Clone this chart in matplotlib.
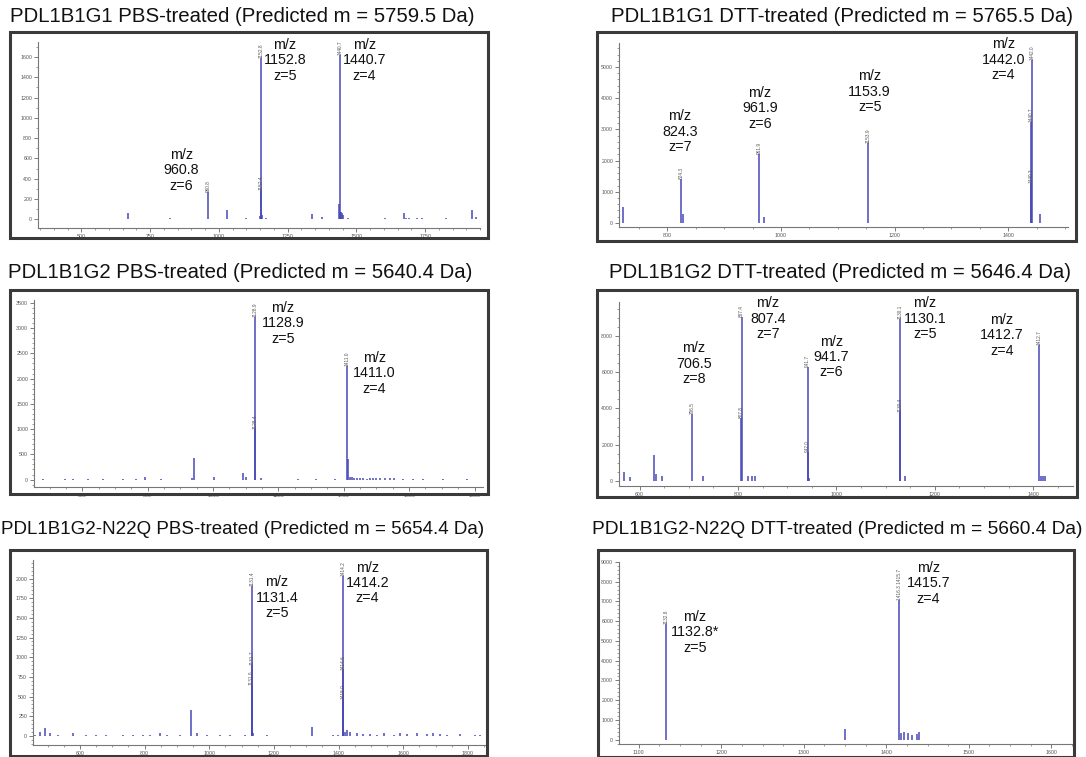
"""Six deconvolution mass spectra (PBS vs DTT treated), m/z stick plots."""
import matplotlib
matplotlib.use("Agg")
import matplotlib.pyplot as plt
from matplotlib.patches import Rectangle
from matplotlib.ticker import MultipleLocator

plt.rcParams["font.family"] = ["Liberation Sans", "DejaVu Sans"]

W, H = 1086, 757
PEAK_COLOR = "#4848b8"

titles = [
    "PDL1B1G1 PBS-treated (Predicted m = 5759.5 Da)",
    "PDL1B1G1 DTT-treated (Predicted m = 5765.5 Da)",
    "PDL1B1G2 PBS-treated (Predicted m = 5640.4 Da)",
    "PDL1B1G2 DTT-treated (Predicted m = 5646.4 Da)",
    "PDL1B1G2-N22Q PBS-treated (Predicted m = 5654.4 Da)",
    "PDL1B1G2-N22Q DTT-treated (Predicted m = 5660.4 Da)",
]

# --- PDL1B1G1 PBS ---
p1_mz = [668, 720, 821, 905, 960.8, 1031, 1098, 1115, 1150, 1152.4, 1152.8, 1158, 1170,
         1337, 1377, 1438, 1440.7, 1442, 1445, 1448, 1452, 1470, 1605, 1673, 1680, 1690,
         1720, 1740, 1827, 1920, 1935]
p1_int = [62, 5, 12, 5, 270, 90, 12, 5, 30, 286, 1590, 40, 8,
          56, 25, 150, 1615, 75, 70, 60, 40, 10, 8, 62, 15, 12,
          10, 8, 8, 90, 20]
p1_tags = [(960.8, 270, "960.8"), (1152.8, 1590, "1152.8"), (1152.4, 286, "1152.4"),
           (1440.7, 1615, "1440.7")]
p1_ann = [(864, 483, "m/z\n960.8\nz=6"), (1240, 1567, "m/z\n1152.8\nz=5"),
          (1529, 1567, "m/z\n1440.7\nz=4")]

# --- PDL1B1G1 DTT ---
p2_mz = [722, 824.3, 827, 961.9, 970, 1153.9, 1440.3, 1440.7, 1442.0, 1455]
p2_int = [515, 1405, 280, 2200, 175, 2550, 1270, 3250, 5230, 280]
p2_tags = [(824.3, 1405, "824.3"), (961.9, 2200, "961.9"), (1153.9, 2550, "1153.9"),
           (1442.0, 5230, "1442.0"), (1440.7, 3250, "1440.7"), (1440.3, 1270, "1440.3")]
p2_ann = [(822, 2926, "m/z\n824.3\nz=7"), (963, 3678, "m/z\n961.9\nz=6"),
          (1156, 4212, "m/z\n1153.9\nz=5"), (1391, 5232, "m/z\n1442.0\nz=4")]

# --- PDL1B1G2 PBS ---
p3_mz = [480, 546, 571, 617, 663, 724, 765, 793, 842, 934, 942, 1003, 1092, 1102,
         1128.4, 1128.9, 1146, 1260, 1316, 1372, 1411.0, 1413, 1418, 1425, 1432, 1440,
         1450, 1460, 1470, 1480, 1490, 1500, 1512, 1525, 1540, 1555, 1582, 1612, 1643,
         1704, 1776]
p3_int = [18, 15, 15, 18, 15, 20, 15, 50, 15, 30, 430, 45, 140, 60,
          1010, 3230, 30, 15, 15, 15, 2250, 400, 60, 50, 40, 30,
          25, 30, 20, 25, 35, 30, 40, 30, 35, 25, 20, 18, 15,
          15, 15]
p3_tags = [(1128.9, 3230, "1128.9"), (1128.4, 1010, "1128.4"), (1411.0, 2250, "1411.0")]
p3_ann = [(1214, 3095, "m/z\n1128.9\nz=5"), (1493, 2103, "m/z\n1411.0\nz=4")]

# --- PDL1B1G2 DTT ---
p4_mz = [568, 580, 630, 633, 645, 706.5, 728, 807.0, 807.4, 820, 828, 835,
         941.3, 941.7, 945, 1129.6, 1130.1, 1140, 1412.7, 1416, 1420, 1424]
p4_int = [510, 200, 1430, 400, 250, 3720, 250, 3450, 9040, 250, 250, 250,
          1610, 6290, 150, 3810, 8950, 250, 7480, 250, 250, 300]
p4_tags = [(706.5, 3720, "706.5"), (807.4, 9040, "807.4"), (807.0, 3450, "807.8"),
           (941.7, 6290, "941.7"), (941.3, 1610, "942.0"), (1130.1, 8950, "1130.1"),
           (1129.6, 3810, "1130.4"), (1412.7, 7480, "1412.7")]
p4_ann = [(710, 6478, "m/z\n706.5\nz=8"), (861, 8954, "m/z\n807.4\nz=7"),
          (990, 6841, "m/z\n941.7\nz=6"), (1180, 8954, "m/z\n1130.1\nz=5"),
          (1336, 8035, "m/z\n1412.7\nz=4")]

# --- PDL1B1G2-N22Q PBS ---
p5_mz = [460, 476, 491, 507, 532, 579, 620, 651, 682, 734, 765, 796, 816, 847, 868,
         909, 945, 961, 992, 1033, 1064, 1110, 1130.9, 1131.4, 1131.8, 1136, 1178,
         1317, 1384, 1399, 1414.2, 1414.6, 1415.0, 1420, 1426, 1436, 1456, 1477, 1497,
         1518, 1539, 1570, 1590, 1611, 1642, 1673, 1693, 1714, 1734, 1776, 1823, 1838]
p5_int = [15, 50, 100, 30, 15, 40, 15, 12, 15, 12, 15, 15, 12, 30, 15,
          15, 330, 40, 15, 15, 15, 12, 650, 1900, 900, 30, 15,
          110, 12, 15, 2030, 840, 470, 50, 80, 45, 30, 20, 25,
          15, 30, 15, 40, 20, 35, 25, 30, 20, 15, 20, 15, 12]
p5_tags = [(1131.4, 1900, "1131.4"), (1131.8, 900, "1131.7"), (1130.9, 650, "1131.0"),
           (1414.2, 2030, "1414.2"), (1414.6, 840, "1414.6"), (1415.0, 470, "1415.0")]
p5_ann = [(1209, 1759, "m/z\n1131.4\nz=5"), (1489, 1946, "m/z\n1414.2\nz=4")]

# --- PDL1B1G2-N22Q DTT ---
p6_mz = [1132.8, 1350, 1415.7, 1418, 1422, 1426, 1431, 1437, 1439]
p6_int = [5850, 530, 7100, 350, 380, 330, 220, 300, 380]
p6_tags = [(1132.8, 5850, "1132.8"), (1415.7, 7100, "1416.3 1415.7")]
p6_ann = [(1168, 5431, "m/z\n1132.8*\nz=5"), (1451, 7922, "m/z\n1415.7\nz=4")]

# axis set-up per panel: xlim, ylim, major/minor x, major/minor y
xlims = [(342, 1950), (715, 1505), (452, 1826), (558, 1481), (455, 1859), (1076, 1625)]
ylims = [(-86, 1747), (-130, 5770), (-147, 3557), (-275, 9870), (-117, 2237), (-220, 9000)]
x_steps = [(250, 50), (200, 50), (200, 50), (200, 50), (200, 50), (100, 25)]
y_steps = [(200, 100), (1000, 200), (500, 100), (2000, 500), (250, 50), (1000, 200)]

# layout in pixels: frame box and axes box (x0, y0, x1, y1), top-left origin
frames = [(10, 32, 488, 238), (597, 32, 1076, 241), (10, 290, 488, 494),
          (597, 290, 1077, 497), (10, 550, 487, 756), (598, 550, 1074, 757)]
axboxes = [(38, 42, 480, 228), (619, 43, 1068, 227), (34, 300, 483, 487),
           (619, 302, 1073, 486), (33, 560, 487, 745), (619, 562, 1072, 744)]
title_pos = [(242, 16), (842, 16), (240, 272), (840, 272), (243, 530), (837, 530)]
title_size = [14.7, 14.7, 14.7, 14.7, 13.5, 13.8]

spectra = [
    (p1_mz, p1_int, p1_tags, p1_ann),
    (p2_mz, p2_int, p2_tags, p2_ann),
    (p3_mz, p3_int, p3_tags, p3_ann),
    (p4_mz, p4_int, p4_tags, p4_ann),
    (p5_mz, p5_int, p5_tags, p5_ann),
    (p6_mz, p6_int, p6_tags, p6_ann),
]

fig = plt.figure(figsize=(W / 100, H / 100), dpi=100)

for i, (mz, inten, tags, ann) in enumerate(spectra):
    fx0, fy0, fx1, fy1 = frames[i]
    fig.add_artist(Rectangle((fx0 / W, 1 - fy1 / H), (fx1 - fx0) / W, (fy1 - fy0) / H,
                             transform=fig.transFigure, fill=False,
                             edgecolor="#3a3a3a", linewidth=2.2))
    tx, ty = title_pos[i]
    fig.text(tx / W, 1 - ty / H, titles[i], ha="center", va="center",
             fontsize=title_size[i], color="#111111")

    ax0, ay0, ax1, ay1 = axboxes[i]
    ax = fig.add_axes([ax0 / W, 1 - ay1 / H, (ax1 - ax0) / W, (ay1 - ay0) / H])
    ax.vlines(mz, 0, inten, color=PEAK_COLOR, linewidth=1.1)

    for x, y, s in tags:
        ax.text(x, y, s, rotation=90, ha="center", va="bottom", fontsize=3.4,
                color="#555555")
    for x, y, s in ann:
        ax.text(x, y, s, ha="center", va="center", fontsize=10.3,
                linespacing=1.12, color="#111111")

    ax.set_xlim(*xlims[i])
    ax.set_ylim(*ylims[i])
    ax.xaxis.set_major_locator(MultipleLocator(x_steps[i][0]))
    ax.xaxis.set_minor_locator(MultipleLocator(x_steps[i][1]))
    ax.yaxis.set_major_locator(MultipleLocator(y_steps[i][0]))
    ax.yaxis.set_minor_locator(MultipleLocator(y_steps[i][1]))
    ax.set_yticks([t for t in ax.get_yticks() if 0 <= t <= ylims[i][1]])
    ax.set_ylim(*ylims[i])
    for side in ("top", "right"):
        ax.spines[side].set_visible(False)
    for side in ("left", "bottom"):
        ax.spines[side].set_color("#777777")
        ax.spines[side].set_linewidth(0.8)
    ax.tick_params(which="major", length=3, width=0.6, labelsize=3.8,
                   colors="#666666", labelcolor="#555555", pad=1.2)
    ax.tick_params(which="minor", length=1.5, width=0.5, colors="#777777")
    ax.patch.set_alpha(0)

fig.savefig("out.png", dpi=100)
